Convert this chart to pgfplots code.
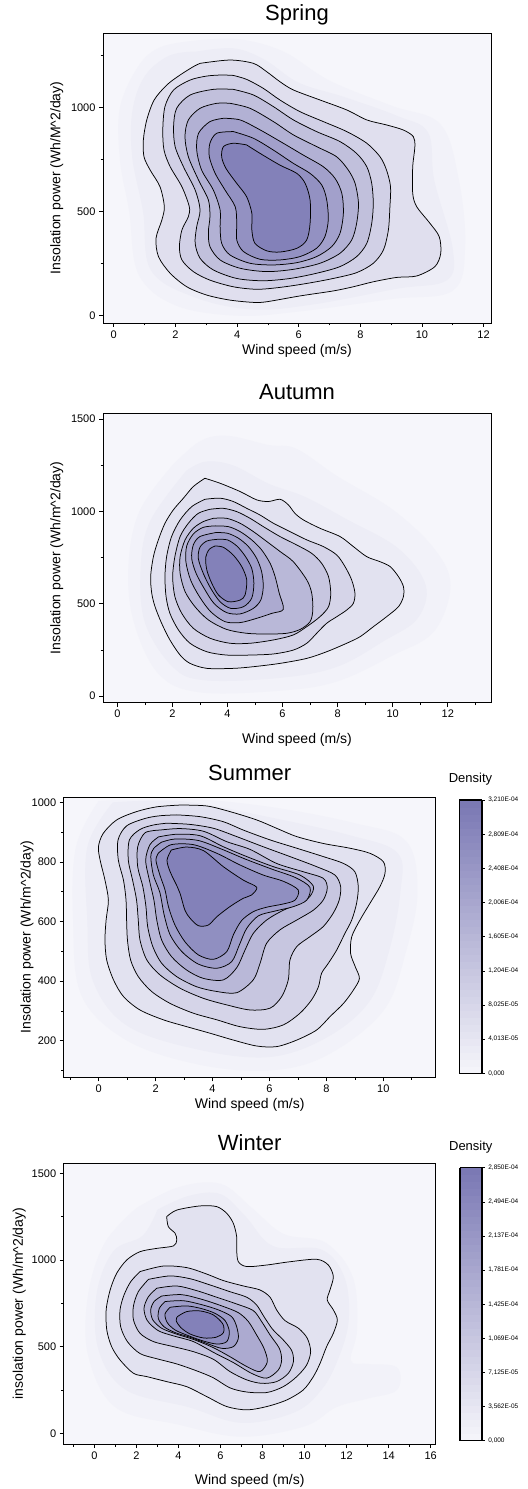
\documentclass[border=0pt]{standalone}
\usepackage{fontspec}
\setmainfont{Liberation Sans}
\usepackage{pgfplots}
\pgfplotsset{compat=1.18}
\definecolor{lo}{RGB}{246,246,251}
\definecolor{dk}{RGB}{122,120,180}
\pgfplotsset{
  colormap={kde}{rgb255=(246,246,251) rgb255=(122,120,180)},
  kde/.style={
    scale only axis, anchor=south west,
    axis background/.style={fill=lo},
    axis on top,
    axis line style={line width=0.9bp, black},
    tick align=outside, xtick pos=bottom, ytick pos=left,
    major tick length=4bp, minor tick length=2.5bp,
    every tick/.style={black, line width=0.6bp},
    tick label style={font=\fontsize{11bp}{13bp}\selectfont},
    /pgf/number format/assume math mode=true,
    /pgf/number format/1000 sep={},
    label style={font=\fontsize{14bp}{16bp}\selectfont},
    title style={font=\fontsize{22bp}{26bp}\selectfont, at={(0.5,1)}, anchor=base, inner sep=0pt},
    xlabel style={at={(axis description cs:0.5,0)}, anchor=base, inner sep=0pt},
    ylabel style={anchor=center, inner sep=0pt},
  },
  cbar/.style={
    scale only axis,
    axis line style={line width=1.4bp, black},
    minor y tick num=0, ytick pos=right, yticklabel pos=right,
    tick align=outside, major tick length=3bp,
    every tick/.style={black, line width=0.6bp},
    yticklabel style={font=\fontsize{6.5bp}{7.5bp}\selectfont, anchor=west},
    title={Density},
    title style={font=\fontsize{13bp}{15bp}\selectfont, at={(0.5,1)}, anchor=base, inner sep=0pt, yshift=11.7bp},
    samples=40,
  },
  cnt/.style={draw=black, line width=0.75bp, smooth, tension=0.5, fill=dk!#1!lo},
  halo/.style={draw=none, smooth, tension=0.6, fill=dk!#1!lo},
}
\begin{document}
\begin{tikzpicture}
\useasboundingbox (0,0) rectangle (528bp,1489bp);
% ---------------- Spring ----------------
\begin{axis}[kde, at={(103bp,1166bp)}, width=388bp, height=290bp,
  xmin=-0.35, xmax=12.24, ymin=-35, ymax=1359,
  xtick={0,2,...,12}, minor xtick={1,3,5,7,9,11},
  ytick={0,500,1000}, minor ytick={250,750,1250},
  title={Spring}, title style={yshift=7bp},
  xlabel={Wind speed (m/s)}, xlabel style={yshift=-32bp},
  ylabel={Insolation power (Wh/M\textasciicircum 2/day)},
  ylabel style={at={(axis description cs:-0.1193,0.5)}},
]
\addplot[halo=3] coordinates {(2.5,1320) (4,1330) (5.5,1270) (7,1130) (9,1010) (10.6,920) (11.2,650) (11.4,330) (11,120) (9,80) (6,20) (4,0) (2,50) (0.8,200) (0.5,500) (0.2,750) (0.2,1000) (0.8,1200) (1.5,1290) (2.5,1320)};
\addplot[halo=7] coordinates {(2.7,1270) (3.9,1285) (4.9,1230) (6,1120) (7.5,1050) (9.2,960) (10.2,880) (10.4,650) (11.0,320) (10.8,170) (9.2,130) (6.5,55) (4.5,30) (2.6,90) (1.2,220) (0.95,500) (0.6,760) (0.6,980) (1.0,1150) (1.8,1250) (2.7,1270)};
\addplot[cnt=18] coordinates {(2.80,1213) (3.77,1229) (4.53,1213) (4.96,1173) (5.39,1125) (5.83,1085) (6.69,1037) (7.56,989) (8.21,941) (8.85,917) (9.39,893) (9.72,861) (9.77,813) (9.70,716) (9.70,588) (9.83,524) (10.26,444) (10.56,380) (10.61,300) (10.42,236) (9.83,191) (9.18,184) (8.42,163) (7.77,139) (7.12,119) (6.04,95) (4.96,67) (4.53,64) (3.77,75) (3.02,99) (2.37,139) (1.83,204) (1.45,284) (1.37,372) (1.56,460) (1.64,524) (1.50,620) (1.18,700) (0.98,764) (0.96,845) (1.07,941) (1.31,1037) (1.72,1109) (2.15,1157) (2.58,1197) (2.80,1213)};
\addplot[cnt=30] coordinates {(3.88,1155) (4.31,1136) (4.85,1093) (5.39,1037) (6.04,981) (6.80,933) (7.56,885) (8.21,829) (8.64,764) (8.85,700) (8.98,620) (8.96,524) (8.91,412) (8.75,316) (8.42,252) (7.88,207) (7.12,179) (6.26,155) (5.39,136) (4.64,127) (3.88,139) (3.12,171) (2.58,212) (2.21,268) (2.13,332) (2.21,412) (2.42,476) (2.45,524) (2.21,620) (1.83,716) (1.63,796) (1.59,893) (1.66,1005) (1.94,1085) (2.48,1133) (3.02,1152) (3.50,1157) (3.88,1155)};
\addplot[cnt=43] coordinates {(3.88,1088) (4.53,1061) (5.18,1005) (5.83,941) (6.58,885) (7.34,837) (7.88,780) (8.21,716) (8.37,636) (8.42,540) (8.37,444) (8.21,348) (7.88,284) (7.34,236) (6.58,204) (5.72,179) (4.85,168) (3.99,179) (3.23,220) (2.80,276) (2.64,348) (2.69,428) (2.80,508) (2.64,604) (2.26,716) (1.99,813) (1.94,909) (2.04,997) (2.48,1061) (3.23,1088) (3.88,1088)};
\addplot[cnt=55] coordinates {(3.77,1021) (4.42,997) (5.18,933) (5.83,869) (6.58,813) (7.23,764) (7.61,700) (7.83,636) (7.94,540) (7.88,444) (7.72,364) (7.34,300) (6.69,252) (5.83,223) (4.96,212) (4.10,228) (3.45,268) (3.12,332) (3.07,404) (3.12,476) (3.07,556) (2.75,652) (2.42,764) (2.31,861) (2.42,941) (2.80,997) (3.34,1021) (3.77,1021)};
\addplot[cnt=68] coordinates {(3.56,949) (4.10,941) (4.75,893) (5.50,829) (6.15,772) (6.80,716) (7.18,660) (7.40,588) (7.45,492) (7.34,396) (7.07,332) (6.58,284) (5.94,255) (5.18,244) (4.42,252) (3.77,292) (3.50,348) (3.45,428) (3.45,508) (3.23,604) (2.85,700) (2.69,796) (2.75,877) (3.12,933) (3.56,949)};
\addplot[cnt=80] coordinates {(3.88,885) (4.53,853) (5.18,796) (5.83,732) (6.37,684) (6.75,628) (6.91,556) (6.96,460) (6.85,380) (6.58,324) (6.04,284) (5.39,268) (4.75,271) (4.21,308) (3.99,364) (3.99,444) (3.94,524) (3.61,604) (3.29,684) (3.10,764) (3.12,829) (3.34,877) (3.88,885)};
\addplot[cnt=93] coordinates {(4.31,821) (4.75,780) (5.39,724) (5.94,684) (6.21,636) (6.37,556) (6.37,444) (6.26,364) (5.94,324) (5.39,306) (4.96,312) (4.58,348) (4.48,412) (4.48,492) (4.31,572) (3.99,636) (3.64,708) (3.50,764) (3.56,813) (3.88,829) (4.31,821)};
\end{axis}
% ---------------- Autumn ----------------
\begin{axis}[kde, at={(103bp,786.3bp)}, width=388bp, height=289.4bp,
  xmin=-0.52, xmax=13.57, ymin=-36, ymax=1532,
  xtick={0,2,...,12}, minor xtick={1,3,5,7,9,11,13},
  ytick={0,500,1000,1500}, minor ytick={250,750,1250},
  title={Autumn}, title style={yshift=8bp},
  xlabel={Wind speed (m/s)}, xlabel style={yshift=-40.6bp},
  ylabel={Insolation power (Wh/m\textasciicircum 2/day)},
  ylabel style={at={(axis description cs:-0.1193,0.5)}},
]
\addplot[halo=3] coordinates {(2,1250) (3,1380) (4,1410) (5.5,1360) (6.5,1340) (8,1190) (10,1010) (11.5,800) (12.1,600) (11.5,350) (10,220) (8,80) (6,30) (3,20) (1.5,120) (0.6,400) (0.4,700) (0.8,1000) (2,1250)};
\addplot[halo=7] coordinates {(2.5,1220) (3.2,1270) (4.2,1250) (5.5,1150) (6.8,1080) (8.3,960) (10.2,800) (11.2,600) (10.9,420) (9.7,300) (8,160) (6,100) (3.2,85) (2,160) (1.0,400) (0.85,700) (1.2,950) (2.5,1220)};
\addplot[cnt=16] coordinates {(3.18,1180) (3.73,1153) (4.46,1108) (5.06,1063) (5.49,1054) (5.91,1066) (6.21,1036) (6.45,990) (6.76,954) (7.36,909) (8.09,864) (8.57,810) (9.06,755) (9.54,728) (9.91,701) (10.21,647) (10.39,593) (10.39,539) (10.21,484) (9.78,430) (9.30,376) (8.82,322) (8.33,286) (7.60,240) (6.88,204) (5.91,177) (4.94,159) (4.21,150) (3.25,150) (2.64,177) (2.28,222) (1.91,304) (1.61,394) (1.37,484) (1.25,557) (1.21,647) (1.31,755) (1.49,846) (1.73,936) (2.03,1008) (2.40,1072) (2.76,1135) (3.18,1180)};
\addplot[cnt=27] coordinates {(3.18,1066) (3.73,1072) (4.21,1054) (4.70,1017) (5.18,981) (5.67,936) (6.27,891) (6.88,846) (7.48,810) (7.97,764) (8.27,701) (8.51,629) (8.63,557) (8.57,502) (8.33,466) (7.97,430) (7.60,394) (7.24,340) (6.88,286) (6.39,249) (5.67,228) (4.82,222) (3.97,222) (3.25,240) (2.64,286) (2.22,358) (1.91,448) (1.77,539) (1.73,647) (1.79,755) (1.97,864) (2.28,954) (2.70,1026) (3.18,1066)};
\addplot[cnt=38] coordinates {(3.37,1012) (3.85,1017) (4.34,999) (4.82,963) (5.30,918) (5.91,864) (6.51,819) (7.06,773) (7.42,719) (7.67,647) (7.75,557) (7.67,484) (7.36,430) (6.88,376) (6.39,331) (5.67,304) (4.82,286) (4.09,286) (3.37,313) (2.76,367) (2.34,448) (2.09,539) (2.01,647) (2.09,755) (2.28,864) (2.58,936) (2.94,990) (3.37,1012)};
\addplot[cnt=49] coordinates {(3.49,963) (3.97,963) (4.46,936) (4.94,891) (5.43,837) (5.91,783) (6.39,728) (6.88,629) (7.06,557) (7.10,466) (7.00,403) (6.64,361) (6.15,340) (5.43,336) (4.70,340) (3.97,361) (3.31,412) (2.82,484) (2.46,566) (2.28,665) (2.28,755) (2.46,846) (2.76,909) (3.12,945) (3.49,963)};
\addplot[cnt=60] coordinates {(3.55,922) (4.03,918) (4.46,891) (4.88,846) (5.24,792) (5.55,719) (5.73,647) (5.88,557) (6.03,470) (5.61,448) (5.06,421) (4.46,398) (3.91,403) (3.39,457) (2.98,539) (2.66,629) (2.49,728) (2.52,813) (2.76,878) (3.12,914) (3.55,922)};
\addplot[cnt=71] coordinates {(3.58,886) (4.00,882) (4.40,855) (4.76,810) (5.06,746) (5.24,674) (5.30,593) (5.21,520) (4.94,475) (4.46,445) (3.97,452) (3.51,502) (3.15,584) (2.86,665) (2.70,746) (2.76,819) (3.00,864) (3.58,886)};
\addplot[cnt=82] coordinates {(3.63,849) (4.00,846) (4.34,813) (4.64,759) (4.88,692) (4.96,611) (4.88,530) (4.58,484) (4.12,475) (3.73,511) (3.39,584) (3.12,665) (2.94,746) (3.00,806) (3.25,840) (3.63,849)};
\addplot[cnt=93] coordinates {(3.55,813) (3.85,806) (4.21,764) (4.52,701) (4.70,629) (4.64,548) (4.46,520) (4.03,511) (3.67,548) (3.43,611) (3.25,683) (3.21,752) (3.34,795) (3.55,813)};
\end{axis}
% ---------------- Summer ----------------
\begin{axis}[kde, at={(63.7bp,411.7bp)}, width=372bp, height=280bp,
  xmin=-1.23, xmax=11.84, ymin=77, ymax=1017,
  xtick={0,2,...,10}, minor xtick={-1,1,3,5,7,9,11},
  ytick={200,400,...,1000}, minor ytick={100,300,500,700,900},
  title={Summer}, title style={yshift=10.6bp},
  xlabel={Wind speed (m/s)}, xlabel style={yshift=-31.7bp},
  ylabel={Insolation power (Wh/m\textasciicircum 2/day)},
  ylabel style={at={(axis description cs:-0.0987,0.5)}},
  point meta min=0, point meta max=3.21,
  colorbar sampled,
  colorbar style={cbar, width=22.6bp, height=273.3bp,
    at={(parent axis.north east)}, anchor=north west, xshift=15bp, yshift=-2.7bp,
    ytick={0,0.40125,0.8025,1.20375,1.605,2.00625,2.4075,2.80875,3.21},
    yticklabels={{0,000},{4,013E-05},{8,025E-05},{1,204E-04},{1,605E-04},{2,006E-04},{2,408E-04},{2,809E-04},{3,210E-04}}},
]
\addplot[halo=3] coordinates {(0,1005) (3,1012) (6,985) (9,930) (10.8,870) (11.2,700) (10.8,500) (10,300) (8,150) (6,100) (3.5,120) (1,200) (-0.6,350) (-0.9,600) (-0.8,850) (0,1005)};
\addplot[halo=7] coordinates {(0.5,1000) (3,1003) (6,950) (8.8,890) (10.5,830) (10.6,700) (10.2,500) (9.5,330) (8,210) (6,145) (3.5,170) (1,250) (-0.2,400) (-0.4,600) (-0.4,850) (0.5,1000)};
\addplot[cnt=16] coordinates {(2.86,991) (3.79,988) (4.61,969) (5.55,941) (6.25,913) (6.96,885) (7.89,862) (8.83,846) (9.53,829) (10.00,801) (10.06,762) (9.88,717) (9.53,661) (9.18,605) (8.89,549) (8.85,493) (9.01,449) (9.16,409) (8.95,370) (8.60,325) (8.13,281) (7.66,236) (6.96,202) (6.25,180) (5.55,182) (4.73,202) (3.91,225) (3.09,247) (2.27,270) (1.45,303) (0.87,348) (0.52,404) (0.28,471) (0.22,538) (0.26,605) (0.34,672) (0.22,739) (0.05,806) (-0.01,851) (0.16,896) (0.63,941) (1.33,969) (2.04,985) (2.86,991)};
\addplot[cnt=27] coordinates {(2.74,958) (3.56,952) (4.38,935) (5.08,907) (6.02,874) (6.96,846) (7.89,818) (8.60,795) (9.00,767) (9.12,717) (9.06,661) (8.89,605) (8.65,560) (8.36,504) (8.07,460) (7.83,426) (7.72,381) (7.48,337) (7.07,292) (6.49,253) (5.78,238) (4.96,247) (4.15,270) (3.33,292) (2.51,325) (1.86,365) (1.39,415) (1.12,471) (1.01,538) (0.98,605) (0.96,672) (0.87,739) (0.69,806) (0.68,874) (0.98,921) (1.63,946) (2.15,955) (2.74,958)};
\addplot[cnt=38] coordinates {(2.39,930) (3.21,926) (4.03,913) (4.85,885) (5.78,851) (6.72,818) (7.66,784) (8.30,756) (8.50,717) (8.45,672) (8.24,628) (7.89,583) (7.42,549) (6.96,516) (6.72,471) (6.66,404) (6.43,348) (6.02,309) (5.32,303) (4.50,320) (3.68,342) (2.86,376) (2.15,421) (1.69,471) (1.45,538) (1.39,605) (1.33,672) (1.19,739) (1.04,806) (1.08,874) (1.45,909) (1.92,924) (2.39,930)};
\addplot[cnt=49] coordinates {(2.15,907) (2.86,912) (3.68,903) (4.50,868) (5.32,842) (6.25,795) (7.19,767) (7.89,745) (8.03,712) (7.89,672) (7.54,638) (6.96,605) (6.37,572) (5.90,527) (5.67,460) (5.43,404) (4.85,361) (4.15,365) (3.44,381) (2.74,415) (2.21,460) (1.90,516) (1.72,583) (1.66,650) (1.55,717) (1.37,784) (1.37,851) (1.63,898) (2.15,907)};
\addplot[cnt=60] coordinates {(2.10,884) (2.74,893) (3.56,888) (4.38,851) (5.20,818) (6.14,784) (7.07,756) (7.54,719) (7.42,684) (7.07,661) (6.49,638) (5.90,605) (5.43,560) (5.14,504) (4.85,445) (4.38,404) (3.68,409) (3.09,437) (2.56,482) (2.21,538) (2.04,605) (1.94,672) (1.78,739) (1.65,806) (1.80,858) (2.10,884)};
\addplot[cnt=71] coordinates {(2.20,866) (2.68,877) (3.50,872) (4.32,843) (5.14,810) (6.08,776) (6.90,748) (7.42,715) (7.31,672) (6.84,650) (6.19,635) (5.61,619) (5.20,577) (4.94,521) (4.67,465) (4.15,443) (3.50,457) (2.92,499) (2.51,555) (2.30,622) (2.15,697) (1.92,756) (1.83,818) (1.93,845) (2.20,866)};
\addplot[cnt=82] coordinates {(2.10,830) (2.55,858) (3.33,858) (4.15,829) (4.96,790) (5.78,756) (6.49,735) (7.01,706) (6.90,672) (6.49,659) (5.90,648) (5.43,633) (5.02,603) (4.73,555) (4.50,499) (4.03,473) (3.50,488) (3.03,532) (2.68,588) (2.45,650) (2.33,706) (2.15,756) (2.01,806) (2.10,830)};
\addplot[cnt=93] coordinates {(2.55,840) (3.09,850) (3.68,838) (4.38,784) (5.08,739) (5.55,715) (5.37,689) (5.08,678) (4.61,650) (4.15,616) (3.85,588) (3.50,586) (3.21,611) (3.03,638) (2.86,694) (2.76,717) (2.51,767) (2.40,806) (2.55,840)};
\end{axis}
% ---------------- Winter ----------------
\begin{axis}[kde, at={(63.7bp,45bp)}, width=372bp, height=280.7bp,
  xmin=-1.46, xmax=16.24, ymin=-62, ymax=1558,
  xtick={0,2,...,16}, minor xtick={-1,1,3,5,7,9,11,13,15},
  ytick={0,500,1000,1500}, minor ytick={250,750,1250},
  title={Winter}, title style={yshift=6.6bp},
  xlabel={Wind speed (m/s)}, xlabel style={yshift=-40bp},
  ylabel={insolation power (Wh/m\textasciicircum 2/day)},
  ylabel style={at={(axis description cs:-0.1196,0.5)}},
  point meta min=0, point meta max=2.85,
  colorbar sampled,
  colorbar style={cbar, width=22bp, height=273bp,
    at={(parent axis.north east)}, anchor=north west, xshift=15.6bp, yshift=-4.4bp,
    ytick={0,0.35625,0.7125,1.06875,1.425,1.78125,2.1375,2.49375,2.85},
    yticklabels={{0,000},{3,562E-05},{7,125E-05},{1,069E-04},{1,425E-04},{1,781E-04},{2,137E-04},{2,494E-04},{2,850E-04}}},
]
\addplot[halo=3] coordinates {(2,1300) (4,1420) (6,1440) (7.5,1300) (9,1150) (11,1100) (12.3,900) (12.5,600) (12.2,420) (13,400) (14.4,380) (14.4,250) (13,200) (11.5,150) (10,40) (7,-20) (4,50) (1,150) (-0.3,450) (-0.3,800) (0.5,1100) (2,1300)};
\addplot[halo=7] coordinates {(3,1290) (4.5,1370) (6,1380) (7.2,1250) (8.5,1080) (10.8,1060) (11.9,900) (12.1,650) (11.6,430) (10.8,250) (9.5,120) (7,60) (4.5,150) (1.5,250) (0.2,480) (0.1,800) (0.9,1050) (2.3,1140) (3,1290)};
\addplot[cnt=16] coordinates {(3.44,1250) (3.92,1288) (5.03,1312) (5.82,1308) (6.30,1269) (6.61,1212) (6.77,1135) (6.77,1058) (6.85,990) (7.25,962) (8.20,971) (9.31,990) (10.58,1004) (11.13,971) (11.37,904) (11.21,827) (11.08,769) (11.37,712) (11.56,654) (11.37,577) (11.05,500) (10.74,404) (10.42,327) (9.94,250) (9.15,192) (8.20,154) (7.25,135) (6.30,154) (5.34,212) (4.39,269) (3.44,298) (2.49,327) (1.86,346) (1.22,423) (0.82,500) (0.59,596) (0.56,712) (0.75,827) (1.06,923) (1.54,1000) (2.17,1048) (2.97,1067) (3.76,1081) (3.92,1115) (3.84,1154) (3.52,1192) (3.44,1250)};
\addplot[cnt=27] coordinates {(2.17,933) (3.28,965) (4.39,956) (5.34,919) (6.14,881) (7.09,850) (7.88,827) (8.36,785) (8.67,712) (9.07,650) (9.71,606) (10.13,548) (10.29,471) (10.10,394) (9.63,327) (8.99,269) (8.20,235) (7.25,238) (6.45,262) (5.66,320) (4.87,360) (3.92,400) (2.97,430) (2.17,460) (1.57,529) (1.25,615) (1.22,712) (1.41,798) (1.73,875) (2.17,933)};
\addplot[cnt=38] coordinates {(2.57,888) (3.60,908) (4.55,892) (5.50,856) (6.45,817) (7.25,785) (7.72,740) (8.07,673) (8.48,600) (8.99,538) (9.39,477) (9.47,413) (9.23,346) (8.67,298) (7.96,288) (7.25,308) (6.45,356) (5.66,427) (4.71,471) (3.76,500) (2.81,529) (2.17,577) (1.86,654) (1.86,735) (2.09,817) (2.57,888)};
\addplot[cnt=49] coordinates {(2.97,837) (3.92,850) (4.87,823) (5.82,785) (6.77,746) (7.56,708) (7.96,644) (8.36,567) (8.80,490) (8.91,423) (8.75,365) (8.20,318) (7.49,345) (6.61,408) (5.74,462) (4.71,529) (3.76,562) (3.04,592) (2.52,650) (2.36,721) (2.57,788) (2.97,837)};
\addplot[cnt=60] coordinates {(3.20,792) (4.15,800) (5.11,773) (6.06,735) (6.85,696) (7.33,644) (7.72,567) (8.07,490) (8.23,413) (7.88,356) (7.25,385) (6.45,442) (5.66,494) (4.79,538) (3.89,573) (3.20,606) (2.78,654) (2.68,712) (2.84,760) (3.20,792)};
\addplot[cnt=71] coordinates {(3.36,760) (4.23,765) (5.11,742) (5.90,712) (6.53,673) (6.77,615) (6.85,548) (6.61,500) (6.06,490) (5.34,519) (4.55,554) (3.84,581) (3.31,615) (3.04,663) (3.09,721) (3.36,760)};
\addplot[cnt=82] coordinates {(3.60,727) (4.39,735) (5.11,719) (5.74,692) (6.22,650) (6.42,587) (6.30,529) (5.82,515) (5.11,535) (4.39,567) (3.84,596) (3.47,638) (3.36,688) (3.60,727)};
\addplot[cnt=93] coordinates {(3.95,673) (4.39,702) (5.03,706) (5.66,683) (6.11,631) (6.14,581) (5.79,554) (5.19,550) (4.55,573) (4.11,610) (3.89,650) (3.95,673)};
\end{axis}
\end{tikzpicture}
\end{document}
